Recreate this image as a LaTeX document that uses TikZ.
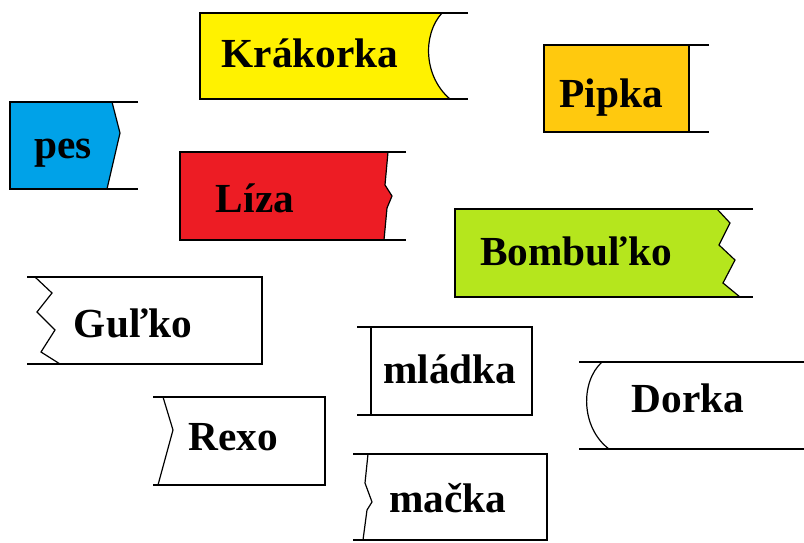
\documentclass[tikz,border=0pt]{standalone}
\usepackage{fontspec}
\setmainfont{Liberation Serif}
\definecolor{pyellow}{RGB}{255,242,0}
\definecolor{pblue}{RGB}{0,162,232}
\definecolor{pred}{RGB}{237,28,36}
\definecolor{porange}{RGB}{255,201,14}
\definecolor{pgreen}{RGB}{181,230,29}
\begin{document}
\begin{tikzpicture}[x=0.75pt, y=-0.75pt, line width=1pt, edge/.style = {line width=0.9pt},
    word/.style = {anchor=base, inner sep=0pt, font=\fontsize{31}{36}\selectfont\bfseries}]
\useasboundingbox (0,0) rectangle (804,543);
% Krakorka
\fill[pyellow] (200,13) -- (442,13) .. controls (422,35) and (424,77) .. (450,99) -- (200,99) -- cycle;
\draw (468,13) -- (200,13) -- (200,99) -- (468,99);
\draw[edge] (442,13) .. controls (422,35) and (424,77) .. (450,99);
\node[word] (krakorka) at (310,67) {Krákorka};
% pes
\fill[pblue] (10,102) -- (112,102) -- (120,133) -- (107,189) -- (10,189) -- cycle;
\draw (138,102) -- (10,102) -- (10,189) -- (138,189);
\draw[edge] (112,102) -- (120,133) -- (107,189);
\node[word] (pes) at (63,158) {pes};
% Liza
\fill[pred] (180,152) -- (388,152) -- (385,185) -- (392,196) -- (387,208) -- (384,240) -- (180,240) -- cycle;
\draw (406,152) -- (180,152) -- (180,240) -- (406,240);
\draw[edge] (388,152) -- (385,185) -- (392,196) -- (387,208) -- (384,240);
\node[word] (liza) at (255,212) {Líza};
% Pipka
\fill[porange] (544,45) rectangle (689,132);
\draw (709,45) -- (544,45) -- (544,132) -- (709,132);
\draw (689,45) -- (689,132);
\node[word] (pipka) at (611,107) {Pipka};
% Bombulko
\fill[pgreen] (455,209) -- (717,209) -- (730,223) -- (719,245) -- (735,260) -- (723,283) -- (740,297) -- (455,297) -- cycle;
\draw (753,209) -- (455,209) -- (455,297) -- (753,297);
\draw[edge] (717,209) -- (730,223) -- (719,245) -- (735,260) -- (723,283) -- (740,297);
\node[word] (bombulko) at (576,265) {Bombuľko};
% Gulko
\draw (27,277) -- (262,277) -- (262,364) -- (27,364);
\draw[edge] (35,277) -- (52,293) -- (37,312) -- (55,330) -- (41,352) -- (60,364);
\node[word] (gulko) at (133,337) {Guľko};
% Rexo
\draw (153,397) -- (325,397) -- (325,485) -- (153,485);
\draw[edge] (163,397) -- (173,430) -- (158,485);
\node[word] (rexo) at (233,450) {Rexo};
% mladka
\draw (357,327) -- (532,327) -- (532,415) -- (357,415);
\draw (371,327) -- (371,415);
\node[word] (mladka) at (450,383) {mládka};
% macka
\draw (353,454) -- (547,454) -- (547,540) -- (353,540);
\draw[edge] (368,454) -- (365,483) -- (372,502) -- (367,510) -- (363,540);
\node[word] (macka) at (448,512) {mačka};
% Dorka
\draw (579,362) -- (804,362);
\draw (579,449) -- (804,449);
\draw[edge] (602,362) .. controls (580,382) and (581,428) .. (609,449);
\node[word] (dorka) at (688,412) {Dorka};
\end{tikzpicture}
\end{document}
